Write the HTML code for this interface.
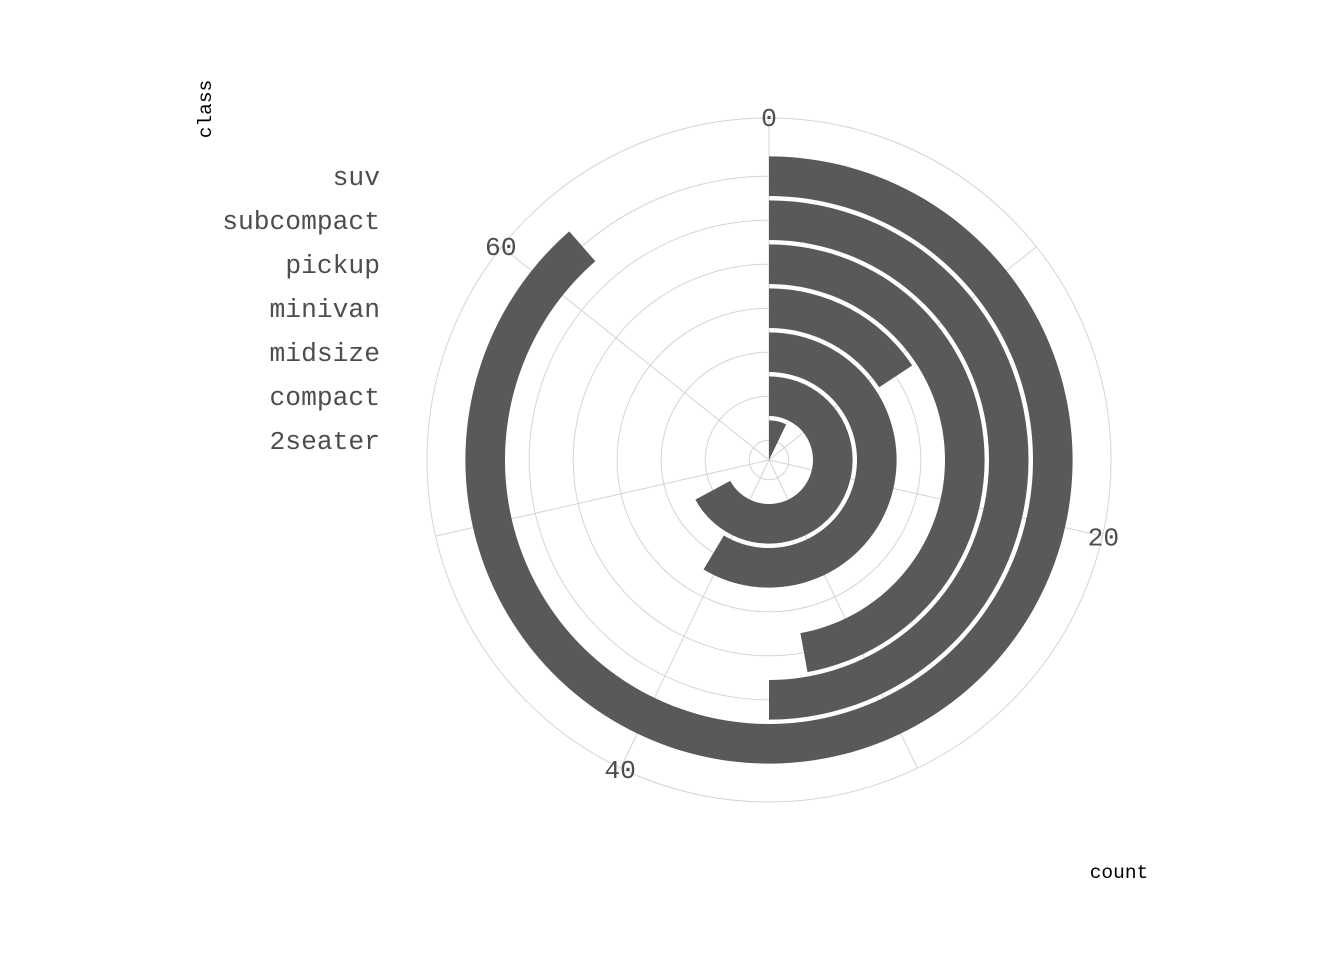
<!DOCTYPE html>
<html><head><meta charset="utf-8"><style>
html,body{margin:0;padding:0;background:#fff;}
svg text{font-family:"Liberation Mono",monospace;}
</style></head><body>
<svg id="chart" width="1344" height="960" xmlns="http://www.w3.org/2000/svg">
<rect x="0" y="0" width="1344" height="960" fill="#fff"/>
<g id="grid"></g>
<g id="bars"></g>
<g id="labels"></g>
<text transform="translate(211,109) rotate(-90)" text-anchor="middle" font-size="19.5" fill="#000">class</text>
<text x="1119" y="878" text-anchor="middle" font-size="19.5" fill="#000">count</text>
</svg>
<script>
const categories = ["2seater","compact","midsize","minivan","pickup","subcompact","suv"];
const counts = [5,47,41,11,33,35,62];
const thetaTicks = [0,20,40,60];
const thetaMinor = [0,10,20,30,40,50,60];
const thetaMax = 70;
const NS="http://www.w3.org/2000/svg";
const cx=769, cy=460, step=44, outerR=342;
function rScale(p){return (p-0.55)*step;}
function ang(v){return v/thetaMax*2*Math.PI;}
function pt(r,a){return [cx+r*Math.sin(a), cy-r*Math.cos(a)];}
function mk(tag,attrs,parent){const e=document.createElementNS(NS,tag);for(const k in attrs)e.setAttribute(k,attrs[k]);parent.appendChild(e);return e;}
const grid=document.getElementById('grid'), bars=document.getElementById('bars'), labels=document.getElementById('labels');
categories.forEach((c,i)=>{
  const el=mk('circle',{cx:cx,cy:cy,r:rScale(i+1),fill:'none',stroke:'#d4d4d4','stroke-width':1},grid);
  
  
});
const oc=mk('circle',{cx:cx,cy:cy,r:outerR,fill:'none',stroke:'#d4d4d4','stroke-width':1},grid);


thetaMinor.forEach(v=>{
  const [x,y]=pt(outerR,ang(v));
  const l=mk('line',{x1:cx,y1:cy,x2:x,y2:y,stroke:'#d4d4d4','stroke-width':1},grid);
  
  
});
counts.forEach((v,i)=>{
  const r0=Math.max(0,rScale(i+1-0.45+0.55)-0.0), r1=rScale(i+1+0.45+0.55);
  const ri=rScale(i+0.55+0.55-0.45), ro=rScale(i+1+0.45);
  const inner=Math.max(0,(i+1-0.45-0.55)*step), outer=(i+1+0.45-0.55)*step;
  const a=ang(v), large=a>Math.PI?1:0;
  const [ox1,oy1]=pt(outer,0),[ox2,oy2]=pt(outer,a),[ix2,iy2]=pt(inner,a),[ix1,iy1]=pt(inner,0);
  let d=`M${ox1},${oy1} A${outer},${outer} 0 ${large} 1 ${ox2},${oy2} L${ix2},${iy2}`;
  if(inner>0) d+=` A${inner},${inner} 0 ${large} 0 ${ix1},${iy1}`;
  d+=' Z';
  const p=mk('path',{d:d,fill:'#595959'},bars);
  
  
  const t=mk('text',{x:380,y:cy-(i+1-0.55)*step+9,'text-anchor':'end','font-size':26.3,fill:'#4d4d4d'},labels);
  t.textContent=categories[i];
  
  
});
thetaTicks.forEach(v=>{
  const [x,y]=pt(outerR+1,ang(v));
  const t=mk('text',{x:x,y:y+9,'text-anchor':'middle','font-size':26.3,fill:'#4d4d4d'},labels);
  t.textContent=String(v);
  
  
});
</script>
</body></html>
